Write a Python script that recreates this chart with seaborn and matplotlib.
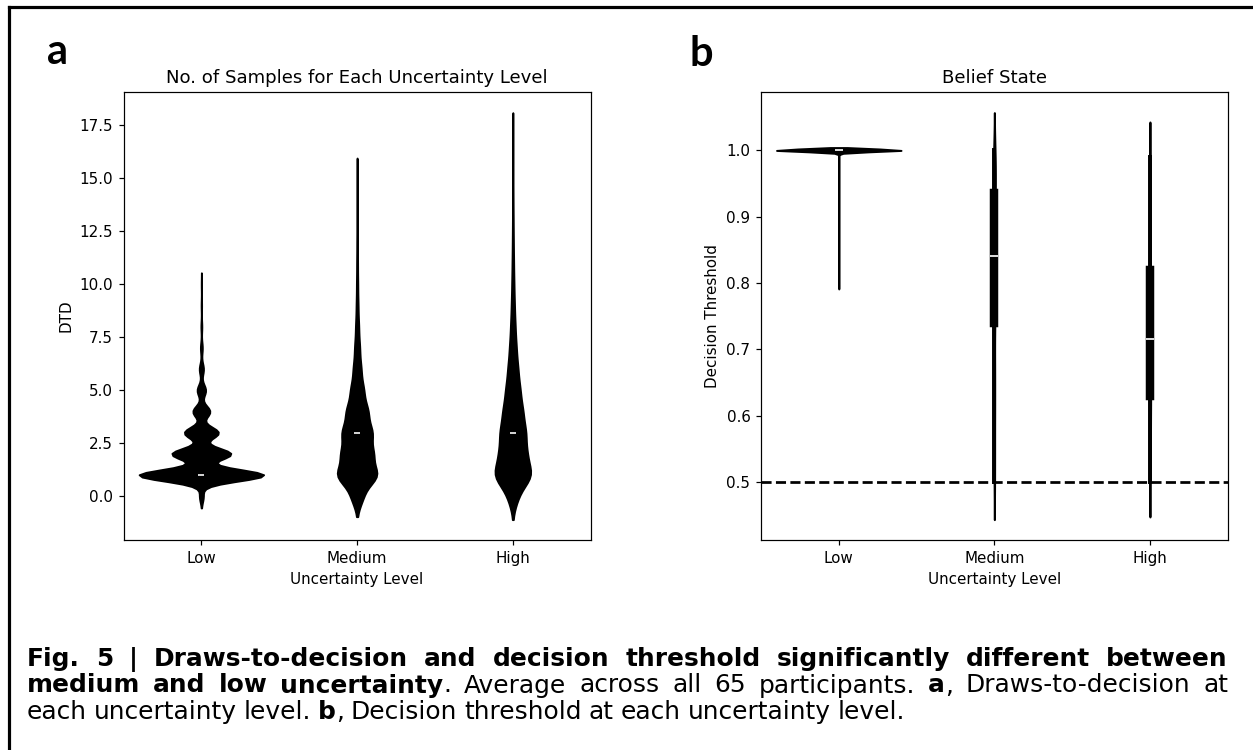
import numpy as np
import pandas as pd
import matplotlib
matplotlib.use("Agg")
import matplotlib.pyplot as plt
import seaborn as sns
from matplotlib.lines import Line2D

# ---------------- data ----------------
levels = ["Low", "Medium", "High"]

# Panel a: draws-to-decision (DTD), number of trials at each integer value
dtd_values_low = [0, 1, 2, 3, 4, 5, 6, 7, 8, 9, 10]
dtd_counts_low = [60, 1900, 900, 520, 260, 130, 65, 30, 15, 8, 5]
dtd_values_medium = [0, 1, 2, 3, 4, 5, 6, 7, 8, 9, 10, 11, 12, 13, 14, 15]
dtd_counts_medium = [217, 760, 580, 555, 398, 239, 144, 94, 59, 36, 25, 18, 13, 9, 6, 4]
dtd_values_high = [0, 1, 2, 3, 4, 5, 6, 7, 8, 9, 10, 11, 12, 13, 14, 15, 16, 17]
dtd_counts_high = [216, 845, 579, 554, 424, 308, 216, 146, 100, 69, 49, 35, 25, 18, 12, 9, 5, 3]
dtd_yticks = [0.0, 2.5, 5.0, 7.5, 10.0, 12.5, 15.0, 17.5]

# Panel b: decision threshold (belief state), per-trial values (5 % quantile steps)
thr_values_low = [0.795, 1.00]
thr_counts_low = [1, 380]
thr_values_medium = [0.50, 0.55, 0.60, 0.64, 0.68, 0.74, 0.76, 0.78, 0.80, 0.82, 0.84,
                     0.86, 0.88, 0.90, 0.92, 0.935, 0.95, 0.96, 0.975, 0.99, 1.00]
thr_counts_medium = [1] * 21
thr_values_high = [0.50, 0.53, 0.56, 0.585, 0.61, 0.63, 0.65, 0.665, 0.68, 0.70, 0.715,
                   0.735, 0.755, 0.775, 0.80, 0.82, 0.85, 0.88, 0.91, 0.95, 0.99]
thr_counts_high = [1] * 21
thr_yticks = [0.5, 0.6, 0.7, 0.8, 0.9, 1.0]
chance_level = 0.5

titles = ["No. of Samples for Each Uncertainty Level", "Belief State"]
xlabel = "Uncertainty Level"
ylabels = ["DTD", "Decision Threshold"]
panel_letters = ["a", "b"]

caption_lines = [
    [[("Fig.", "bold")], [("5", "bold")], [("|", "bold")], [("Draws-to-decision", "bold")],
     [("and", "bold")], [("decision", "bold")], [("threshold", "bold")],
     [("significantly", "bold")], [("different", "bold")], [("between", "bold")]],
    [[("medium", "bold")], [("and", "bold")], [("low", "bold")],
     [("uncertainty", "bold"), (".", "normal")], [("Average", "normal")],
     [("across", "normal")], [("all", "normal")], [("65", "normal")],
     [("participants.", "normal")], [("a", "bold"), (",", "normal")],
     [("Draws-to-decision", "normal")], [("at", "normal")]],
    [[("each", "normal")], [("uncertainty", "normal")], [("level.", "normal")],
     [("b", "bold"), (",", "normal")], [("Decision", "normal")], [("threshold", "normal")],
     [("at", "normal")], [("each", "normal")], [("uncertainty", "normal")],
     [("level.", "normal")]],
]


def expand(values_list, counts_list, column):
    frames = []
    for lvl, vals, cnts in zip(levels, values_list, counts_list):
        frames.append(pd.DataFrame({"level": lvl, column: np.repeat(vals, cnts)}))
    return pd.concat(frames, ignore_index=True)


df_a = expand([dtd_values_low, dtd_values_medium, dtd_values_high],
              [dtd_counts_low, dtd_counts_medium, dtd_counts_high], "DTD")
df_b = expand([thr_values_low, thr_values_medium, thr_values_high],
              [thr_counts_low, thr_counts_medium, thr_counts_high], "threshold")

# ---------------- figure ----------------
W, H, DPI = 1253, 750, 109
fig = plt.figure(figsize=(W / DPI, H / DPI), dpi=DPI)
fig.patch.set_facecolor("white")

ax_a = fig.add_axes([123.5 / W, 1 - 540 / H, 467.2 / W, 447.7 / H])
ax_b = fig.add_axes([761.0 / W, 1 - 540 / H, 466.7 / W, 447.7 / H])

sns.violinplot(data=df_a, x="level", y="DTD", order=levels, ax=ax_a,
               color="black", linecolor="black", linewidth=1.2, inner="box")
sns.violinplot(data=df_b, x="level", y="threshold", order=levels, ax=ax_b,
               color="black", linecolor="black", linewidth=1.3, inner="box",
               bw_method=0.19, inner_kws=dict(box_width=5.6, whis_width=2.6))
ax_b.axhline(chance_level, color="black", linestyle="--", linewidth=1.8)

for ax, title, yl, yt in zip([ax_a, ax_b], titles, ylabels, [dtd_yticks, thr_yticks]):
    ax.set_title(title)
    ax.set_xlabel(xlabel)
    ax.set_ylabel(yl)
    ax.set_yticks(yt)

# panel letters
fig.text(47 / W, 1 - 64 / H, panel_letters[0], fontsize=27.5, fontweight="bold",
         family=["Lato", "DejaVu Sans"], ha="left", va="baseline")
fig.text(690 / W, 1 - 65.8 / H, panel_letters[1], fontsize=27.5, fontweight="bold",
         family=["Lato", "DejaVu Sans"], ha="left", va="baseline")

# page border (top and left edges)
fig.add_artist(Line2D([8.5 / W, 8.5 / W], [0, 1 - 6.8 / H], transform=fig.transFigure,
                      color="black", linewidth=2.1, solid_capstyle="projecting"))
fig.add_artist(Line2D([8.5 / W, 1.0], [1 - 6.8 / H, 1 - 6.8 / H], transform=fig.transFigure,
                      color="black", linewidth=2.1, solid_capstyle="projecting"))

# caption (justified text)
fig.canvas.draw()
renderer = fig.canvas.get_renderer()
cap_family = ["DejaVu Sans"]


def seg_width(s, weight, size):
    t = fig.text(0, 0, s, fontsize=size, fontweight=weight, family=cap_family)
    w = t.get_window_extent(renderer).width
    t.remove()
    return w


def word_width(word, size):
    return sum(seg_width(s, wt, size) for s, wt in word)


base_size = 14.0
space_ratio = 0.28
nat3 = sum(word_width(w, base_size) for w in caption_lines[2])
nat3 += space_ratio * base_size * DPI / 72 * (len(caption_lines[2]) - 1)
cap_size = base_size * 875.0 / nat3
space_px = space_ratio * cap_size * DPI / 72

x_left, x_right = 27.0, 1228.0
baselines = [665.7, 692.5, 719.3]
for li, (line, yb) in enumerate(zip(caption_lines, baselines)):
    widths = [word_width(w, cap_size) for w in line]
    if li < 2:
        gap = (x_right - x_left - sum(widths)) / (len(line) - 1)
    else:
        gap = space_px
    x = x_left
    for word, ww in zip(line, widths):
        xs = x
        for s, wt in word:
            fig.text(xs / W, 1 - yb / H, s, fontsize=cap_size, fontweight=wt,
                     family=cap_family, ha="left", va="baseline")
            xs += seg_width(s, wt, cap_size)
        x += ww + gap

fig.savefig("out.png", dpi=DPI, facecolor="white")
